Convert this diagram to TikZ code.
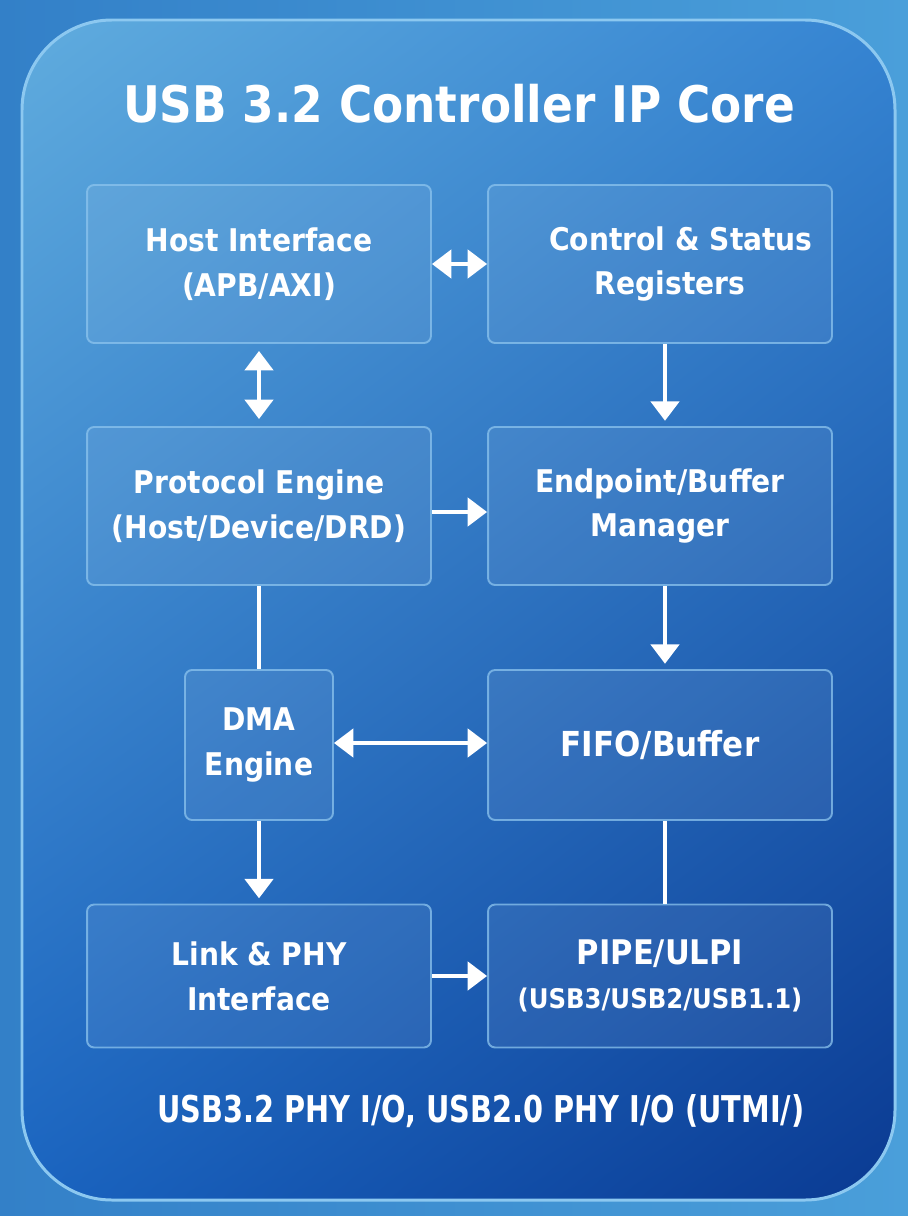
\documentclass[tikz,border=0pt]{standalone}
\usepackage{fontspec}
\setmainfont{DejaVu Sans}
\newfontfamily\boxfont[FakeStretch=0.9]{DejaVu Sans}
\newfontfamily\condfont[FakeStretch=0.78]{DejaVu Sans}
\usepackage{xcolor}
\usepackage{tikz}
\usetikzlibrary{arrows.meta,shadings}

\definecolor{outerA}{HTML}{3380C8}
\definecolor{outerB}{HTML}{4A9FDA}
\definecolor{panelTL}{HTML}{60ACDE}
\definecolor{panelTR}{HTML}{3584D2}
\definecolor{panelBL}{HTML}{1A64C0}
\definecolor{panelBR}{HTML}{0A3A92}
\definecolor{rim}{HTML}{8CC8F0}
\definecolor{boxline}{HTML}{8CC4EE}

\begin{document}
\begin{tikzpicture}[x=0.02cm, y=-0.02cm,
    block/.style={draw=boxline, line width=1.1pt, rounded corners=4pt,
      fill=white, fill opacity=0.07, draw opacity=0.75, text opacity=1,
      text=white, align=center, inner sep=0pt,
      font=\boxfont\bfseries\fontsize{17.8}{25.5}\selectfont},
    wide/.style={block, minimum width=6.88cm, minimum height=3.16cm},
    arr/.style={white, line width=2.2pt, -{Triangle[length=11pt,width=16pt]}},
    both/.style={white, line width=2.2pt, {Triangle[length=11pt,width=16pt]}-{Triangle[length=11pt,width=16pt]}},
    plain/.style={white, line width=2.2pt}]
    % background and panel
    \shade[left color=outerA, right color=outerB] (0,0) rectangle (908,1216);
    \useasboundingbox (0,0) rectangle (908,1216);
    \shade[rounded corners=1.8cm, upper left=panelTL, upper right=panelTR,
      lower left=panelBL, lower right=panelBR] (22,20) rectangle (895,1200);
    \draw[rim, line width=1.7pt, rounded corners=1.8cm] (22,20) rectangle (895,1200);
    \node[text=white, font=\boxfont\bfseries\fontsize{28.7}{36}\selectfont] (title) at (459,104) {USB 3.2 Controller IP Core};

    % blocks
    \node[wide] (host) at (259,264) {Host Interface\\(APB/AXI)};
    \node[wide] (csr) at (660,264) {\hspace*{0.84cm}Control \& Status\\\hspace*{0.4cm}Registers};
    \node[wide] (proto) at (259,506) {Protocol Engine\\(Host/Device/DRD)};
    \node[wide] (ep) at (660,506) {Endpoint/Buffer\\Manager};
    \node[block, minimum width=2.96cm, minimum height=3cm] (dma) at (259,745) {DMA\\Engine};
    \node[wide, minimum height=3cm, font=\boxfont\bfseries\fontsize{19.6}{26}\selectfont] (fifo) at (660,745) {FIFO/Buffer};
    \node[wide, minimum height=2.86cm] (link) at (259,976) {Link \& PHY\\Interface};
    \node[wide, minimum height=2.86cm, font=\boxfont\bfseries\fontsize{19.3}{25.5}\selectfont] (pipe) at (660,976) {PIPE/ULPI\\{\fontsize{15.4}{25.5}\selectfont (USB3/USB2/USB1.1)}};

    \node[text=white, font=\condfont\bfseries\fontsize{21}{26}\selectfont] (phyio) at (481,1111) {USB3.2 PHY I/O, USB2.0 PHY I/O (UTMI/)};

    % connectors
    \draw[both] (host.east) -- (csr.west);
    \draw[both, shorten <=4pt, shorten >=4pt] (host.south) -- (proto.north);
    \draw[arr, shorten >=3pt] ([xshift=0.1cm]csr.south) -- ([xshift=0.1cm]ep.north);
    \draw[arr] ([yshift=-0.12cm]proto.east) -- ([yshift=-0.12cm]ep.west);
    \draw[plain] (proto.south) -- (dma.north);
    \draw[arr, shorten >=3pt] ([xshift=0.1cm]ep.south) -- ([xshift=0.1cm]fifo.north);
    \draw[both] ([yshift=0.04cm]dma.east) -- ([yshift=0.04cm]fifo.west);
    \draw[arr, shorten >=3pt] (dma.south) -- (link.north);
    \draw[plain] ([xshift=0.1cm]fifo.south) -- ([xshift=0.1cm]pipe.north);
    \draw[arr] (link.east) -- (pipe.west);
\end{tikzpicture}
\end{document}
